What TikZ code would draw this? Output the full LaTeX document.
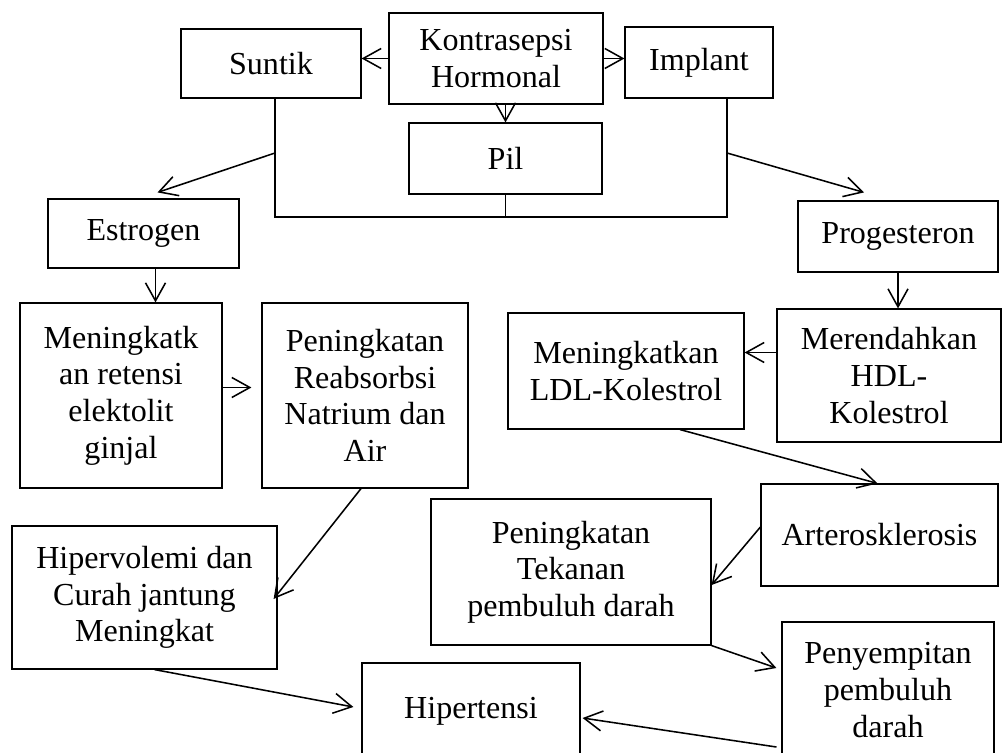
\documentclass[tikz,border=0pt]{standalone}
\usepackage{fontspec}
\setmainfont{Liberation Serif}
\usetikzlibrary{arrows.meta}

\begin{document}
\begin{tikzpicture}[x=0.025cm,y=-0.025cm,line width=1.1pt,
    >={Straight Barb[length=0.45cm,width=0.5cm]},
    box/.style={draw,line width=0.8pt,align=center,inner sep=0pt,
      font=\fontsize{22.8}{26}\selectfont}]
           \useasboundingbox (0,0) rectangle (1003,753);
           \clip (0,0) rectangle (1003,753);
           \node[box, minimum width=5.35cm, minimum height=2.275cm] (kontra) at (496,58.5) {Kontrasepsi\\Hormonal};
           \node[box, minimum width=4.5cm, minimum height=1.725cm] (suntik) at (271,63.5) {Suntik};
           \node[box, minimum width=3.7cm, minimum height=1.775cm] (implant) at (699,62.5) {Implant};
           \node[box, minimum width=4.825cm, minimum height=1.775cm] (pil) at (505.5,158.5) {Pil};
           \node[box, minimum width=4.775cm, minimum height=1.725cm] (estrogen) at (143.5,233.5) {Estrogen};
           \node[box, minimum width=5cm, minimum height=1.775cm] (progesteron) at (898,236.5) {Progesteron};
           \node[box, minimum width=5.05cm, minimum height=4.625cm] (retensi) at (121,395.5) {Meningkatk\\an retensi\\elektolit\\ginjal};
           \node[box, minimum width=5.15cm, minimum height=4.625cm] (reabsorbsi) at (365,395.5) {Peningkatan\\Reabsorbsi\\Natrium dan\\Air};
           \node[box, minimum width=5.9cm, minimum height=2.9cm] (ldl_kol) at (626,371) {Meningkatkan\\LDL-Kolestrol};
           \node[box, minimum width=5.6cm, minimum height=3.325cm] (hdl_kol) at (889,375.5) {Merendahkan\\HDL-\\Kolestrol};
           \node[box, minimum width=5.925cm, minimum height=2.55cm] (artero) at (879.5,535) {Arterosklerosis};
           \node[box, minimum width=7cm, minimum height=3.65cm] (tekanan) at (571,572) {Peningkatan\\Tekanan\\pembuluh darah};
           \node[box, minimum width=6.625cm, minimum height=3.575cm] (hipervol) at (144.5,597.5) {Hipervolemi dan\\Curah jantung\\Meningkat};
           \node[box, minimum width=5.3cm, minimum height=3.4cm] (sempit) at (888,690) {Penyempitan\\pembuluh\\darah};
           \node[box, minimum width=5.45cm, minimum height=2.4cm] (hipertensi) at (471,711) {Hipertensi};
           % garis penghubung Suntik - Pil - Implant
           \coordinate (b_l) at (275,217);
           \coordinate (b_r) at (727,217);
           \coordinate (t_l) at (275,153);
           \coordinate (t_r) at (727,153);
           \draw (suntik.south -| b_l) -- (b_l) -- (b_r) -- (implant.south -| b_r);
           \draw (pil.south) -- (pil.south |- b_l);
           \path[->]
            (kontra.west) edge (suntik.east |- kontra.west)
            (kontra.east) edge (implant.west |- kontra.east)
            (pil.north |- kontra.south) edge (pil.north)
            (t_l) edge ([shift={(14,-6)}]estrogen.north)
            (t_r) edge ([shift={(-34,-8)}]progesteron.north)
            ([shift={(12,0)}]estrogen.south) edge ([shift={(12,0)}]estrogen.south |- retensi.north)
            ([shift={(0,-8)}]retensi.east) edge ([shift={(-10,-8)}]reabsorbsi.west)
            (progesteron.south) edge (progesteron.south |- hdl_kol.north)
            ([shift={(0,-23)}]hdl_kol.west) edge ([shift={(0,-23)}]hdl_kol.west -| ldl_kol.east)
            ([shift={(54,0)}]ldl_kol.south) edge ([shift={(-2,0)}]artero.north)
            ([shift={(-4,0)}]reabsorbsi.south) edge ([shift={(-4,1.5)}]hipervol.east)
            ([shift={(0,-8)}]artero.west) edge ([shift={(0,13)}]tekanan.east)
            (tekanan.south east) edge ([shift={(-5,-22)}]sempit.west)
            ([shift={(-5,57)}]sempit.west) edge ([shift={(2,7)}]hipertensi.east)
            ([shift={(10,0)}]hipervol.south) edge ([shift={(-8,-4)}]hipertensi.west);
        \end{tikzpicture}
\end{document}
